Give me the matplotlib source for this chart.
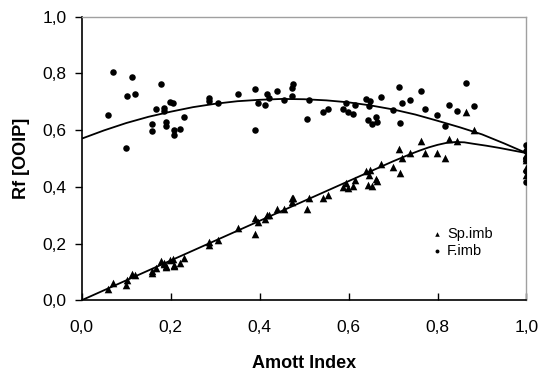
import numpy as np
import matplotlib
matplotlib.use("Agg")
import matplotlib.pyplot as plt
from matplotlib.ticker import FuncFormatter

plt.rcParams['font.family'] = ['Liberation Sans', 'DejaVu Sans']

# Amott index of each sample (shared by both imbibition tests)
amott = [0.058, 0.071, 0.100, 0.101, 0.114, 0.120, 0.158, 0.158, 0.168, 0.178,
         0.185, 0.185, 0.190, 0.190, 0.198, 0.206, 0.207, 0.207, 0.221, 0.231,
         0.286, 0.286, 0.307, 0.351, 0.389, 0.390, 0.397, 0.413, 0.416, 0.422,
         0.440, 0.455, 0.473, 0.473, 0.476, 0.506, 0.512, 0.542, 0.553, 0.587,
         0.595, 0.598, 0.610, 0.614, 0.640, 0.646, 0.649, 0.644, 0.652, 0.661,
         0.665, 0.672, 0.699, 0.713, 0.716, 0.721, 0.739, 0.762, 0.772, 0.798,
         0.816, 0.825, 0.843, 0.864, 0.881,
         1.0, 1.0, 1.0, 1.0, 1.0, 1.0]

# recovery factor, spontaneous imbibition
rf_sp = [0.039, 0.059, 0.053, 0.073, 0.091, 0.088, 0.097, 0.103, 0.115, 0.138,
         0.126, 0.130, 0.118, 0.121, 0.141, 0.147, 0.122, 0.125, 0.133, 0.150,
         0.204, 0.196, 0.214, 0.255, 0.291, 0.235, 0.276, 0.286, 0.302, 0.302,
         0.323, 0.322, 0.347, 0.362, 0.359, 0.323, 0.362, 0.362, 0.370, 0.398,
         0.414, 0.396, 0.402, 0.423, 0.455, 0.441, 0.459, 0.408, 0.403, 0.427,
         0.421, 0.482, 0.469, 0.535, 0.448, 0.503, 0.521, 0.562, 0.521, 0.521,
         0.502, 0.568, 0.561, 0.665, 0.602,
         0.538, 0.514, 0.503, 0.467, 0.443, 0.495]

# recovery factor, forced imbibition
rf_f = [0.653, 0.806, 0.536, 0.720, 0.786, 0.726, 0.623, 0.597, 0.676, 0.764,
        0.679, 0.667, 0.629, 0.615, 0.700, 0.696, 0.602, 0.584, 0.603, 0.647,
        0.715, 0.702, 0.696, 0.728, 0.746, 0.601, 0.696, 0.690, 0.728, 0.715,
        0.739, 0.706, 0.722, 0.749, 0.762, 0.639, 0.706, 0.665, 0.673, 0.676,
        0.697, 0.663, 0.657, 0.688, 0.711, 0.684, 0.704, 0.635, 0.620, 0.646,
        0.629, 0.716, 0.670, 0.751, 0.626, 0.697, 0.706, 0.737, 0.675, 0.653,
        0.615, 0.688, 0.666, 0.768, 0.684,
        0.549, 0.526, 0.503, 0.495, 0.455, 0.418]

# trendlines
trend_f_x = [0.0, 0.05, 0.1, 0.15, 0.2, 0.25, 0.3, 0.35, 0.4, 0.45, 0.5,
             0.55, 0.6, 0.65, 0.7, 0.75, 0.8, 0.85, 0.9, 0.95, 1.0]
trend_f_y = [0.570, 0.599, 0.625, 0.647, 0.665, 0.681, 0.693, 0.702, 0.707, 0.710, 0.709,
             0.705, 0.698, 0.687, 0.673, 0.655, 0.633, 0.610, 0.585, 0.553, 0.519]
trend_sp_x = [0.0, 0.1, 0.2, 0.3, 0.4, 0.5, 0.6, 0.7, 0.72, 0.74, 0.76, 0.78, 0.80,
              0.82, 0.84, 0.86, 0.88, 0.91, 0.94, 0.97, 1.0]
trend_sp_y = [0.0, 0.07, 0.14, 0.21, 0.28, 0.35, 0.42, 0.49, 0.503, 0.516, 0.528, 0.539, 0.548,
              0.555, 0.558, 0.557, 0.552, 0.545, 0.537, 0.528, 0.519]

ticks = [0.0, 0.2, 0.4, 0.6, 0.8, 1.0]

fig = plt.figure(figsize=(5.45, 3.72), dpi=100)
ax = fig.add_axes([0.150, 0.193, 0.816, 0.762])

ax.scatter(amott, rf_sp, marker='^', s=30, color='black', linewidths=0, label='Sp.imb', zorder=3)
ax.scatter(amott, rf_f, marker='o', s=22, color='black', linewidths=0, label='F.imb', zorder=3)

ax.plot(trend_f_x, trend_f_y, color='black', lw=1.3)
ax.plot(trend_sp_x, trend_sp_y, color='black', lw=1.3)

ax.set_xlim(0, 1)
ax.set_ylim(0, 1)
ax.set_xticks(ticks)
ax.set_yticks(ticks)
fmt = FuncFormatter(lambda v, pos: f"{v:.1f}".replace('.', ','))
ax.xaxis.set_major_formatter(fmt)
ax.yaxis.set_major_formatter(fmt)
ax.tick_params(axis='x', direction='in', length=5, width=1, pad=14, labelsize=12.5)
ax.tick_params(axis='y', direction='out', length=5, width=1, pad=6, labelsize=12.5)

for s in ['left', 'bottom']:
    ax.spines[s].set_color('black')
    ax.spines[s].set_linewidth(1.2)
for s in ['top', 'right']:
    ax.spines[s].set_color('#a0a0a0')
    ax.spines[s].set_linewidth(1.0)

ax.set_xlabel('Amott Index', fontsize=13, fontweight='bold', labelpad=15)
ax.set_ylabel('Rf [OOIP]', fontsize=13, fontweight='bold', labelpad=9)

ax.legend(loc='upper left', bbox_to_anchor=(0.785, 0.258), frameon=False, fontsize=10.5,
          markerscale=0.6, handlelength=0.8, handletextpad=0.3, labelspacing=0.2,
          borderpad=0, borderaxespad=0)

fig.savefig('out.png', dpi=100)
